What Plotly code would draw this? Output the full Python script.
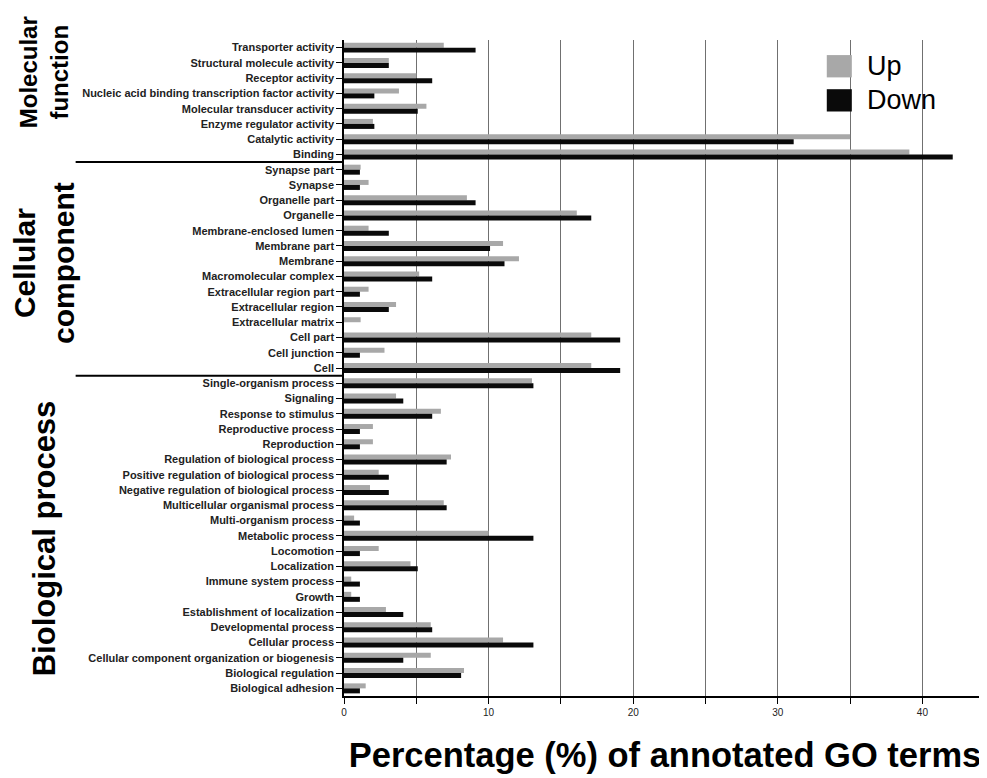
import plotly.graph_objects as go

mf_terms = ["Transporter activity", "Structural molecule activity", "Receptor activity",
            "Nucleic acid binding transcription factor activity", "Molecular transducer activity",
            "Enzyme regulator activity", "Catalytic activity", "Binding"]
mf_up = [6.9, 3.1, 5.0, 3.8, 5.7, 2.0, 35.0, 39.1]
mf_down = [9.1, 3.1, 6.1, 2.1, 5.1, 2.1, 31.1, 42.1]

cc_terms = ["Synapse part", "Synapse", "Organelle part", "Organelle", "Membrane-enclosed lumen",
            "Membrane part", "Membrane", "Macromolecular complex", "Extracellular region part",
            "Extracellular region", "Extracellular matrix", "Cell part", "Cell junction", "Cell"]
cc_up = [1.15, 1.7, 8.5, 16.1, 1.7, 11.0, 12.1, 5.2, 1.7, 3.6, 1.15, 17.1, 2.8, 17.1]
cc_down = [1.1, 1.1, 9.1, 17.1, 3.1, 10.1, 11.1, 6.1, 1.1, 3.1, 0, 19.1, 1.1, 19.1]

bp_terms = ["Single-organism process", "Signaling", "Response to stimulus", "Reproductive process",
            "Reproduction", "Regulation of biological process",
            "Positive regulation of biological process", "Negative regulation of biological process",
            "Multicellular organismal process", "Multi-organism process", "Metabolic process",
            "Locomotion", "Localization", "Immune system process", "Growth",
            "Establishment of localization", "Developmental process", "Cellular process",
            "Cellular component organization or biogenesis", "Biological regulation",
            "Biological adhesion"]
bp_up = [13.0, 3.6, 6.7, 2.0, 2.0, 7.4, 2.4, 1.8, 6.9, 0.7, 10.0, 2.4, 4.6, 0.5, 0.5, 2.9, 6.0,
         11.0, 6.0, 8.3, 1.5]
bp_down = [13.1, 4.1, 6.1, 1.1, 1.1, 7.1, 3.1, 3.1, 7.1, 1.1, 13.1, 1.1, 5.1, 1.1, 1.1, 4.1, 6.1,
           13.1, 4.1, 8.1, 1.1]

section_names = ["Molecular<br>function", "Cellular<br>component", "Biological process"]
series_names = ["Up", "Down"]
x_ticks = [0, 10, 20, 30, 40]

terms = mf_terms + cc_terms + bp_terms
up = mf_up + cc_up + bp_up
down = mf_down + cc_down + bp_down

FONT = "Liberation Sans, Arial, sans-serif"
GRAY = "#a8a8a8"
BLACK = "#0a0a0a"
GRID = "#707070"

fig = go.Figure()
fig.add_trace(go.Bar(y=terms, x=up, orientation="h", name=series_names[0],
                     marker=dict(color=GRAY, line=dict(width=0))))
fig.add_trace(go.Bar(y=terms, x=down, orientation="h", name=series_names[1],
                     marker=dict(color=BLACK, line=dict(width=0))))

n_mf, n_cc = len(mf_terms), len(cc_terms)
n_all = len(terms)

shapes = []
# section divider lines
for ypos in [n_mf - 0.5, n_mf + n_cc - 0.5]:
    shapes.append(dict(type="line", xref="paper", yref="y", x0=-0.418, x1=0,
                       y0=ypos, y1=ypos, line=dict(color="black", width=2)))
# legend squares
shapes.append(dict(type="rect", xref="paper", yref="paper", x0=0.752, x1=0.791,
                   y0=0.943, y1=0.977, fillcolor=GRAY, line=dict(width=0)))
shapes.append(dict(type="rect", xref="paper", yref="paper", x0=0.752, x1=0.791,
                   y0=0.891, y1=0.925, fillcolor=BLACK, line=dict(width=0)))

annotations = []
sec_y = [1.6, 14.1, 32.15]
sec_size = [24, 30, 31]
for name, yc, fs in zip(section_names, sec_y, sec_size):
    annotations.append(dict(text=name, xref="paper", yref="y", x=-0.467, y=yc,
                            textangle=-90, showarrow=False, xanchor="center", yanchor="middle",
                            font=dict(family=FONT, size=fs, color="black", weight="bold")))
annotations.append(dict(text=series_names[0], xref="paper", yref="paper", x=0.812, y=0.960,
                        showarrow=False, xanchor="left", yanchor="middle",
                        font=dict(family=FONT, size=27, color="black")))
annotations.append(dict(text=series_names[1], xref="paper", yref="paper", x=0.812, y=0.908,
                        showarrow=False, xanchor="left", yanchor="middle",
                        font=dict(family=FONT, size=27, color="black")))

# the page body adds an 8px offset, so the figure is 8px smaller and margins shifted
fig.update_layout(
    width=979, height=770,
    margin=dict(l=336, r=1, t=32, b=82, autoexpand=False),
    plot_bgcolor="white", paper_bgcolor="white",
    barmode="group", bargap=0.345, bargroupgap=0,
    showlegend=False,
    shapes=shapes, annotations=annotations,
    font=dict(family=FONT, color="#222"),
)
fig.update_yaxes(
    range=[n_all - 0.5, -0.5], autorange=False, showline=True, linecolor="black", linewidth=1.5,
    ticks="outside", ticklen=6, tickcolor="black", tickwidth=1,
    tickfont=dict(family=FONT, size=11, color="#222", weight="bold"),
    showgrid=False, zeroline=False,
)
fig.update_xaxes(
    range=[0, 44.4], autorange=False, tickvals=x_ticks, showline=True, linecolor="black",
    linewidth=1.5, ticks="outside", ticklen=6, tickcolor="black",
    tickfont=dict(family=FONT, size=10, color="#222"),
    showgrid=True, gridcolor=GRID, gridwidth=1.4, zeroline=False,
    minor=dict(dtick=5, tick0=0, ticks="outside", ticklen=6, tickcolor="black",
               showgrid=True, gridcolor=GRID, gridwidth=1.4),
    title=dict(text="Percentage (%) of annotated GO terms", standoff=26,
               font=dict(family=FONT, size=34.5, color="black", weight="bold")),
)

fig.write_html("out.html")
